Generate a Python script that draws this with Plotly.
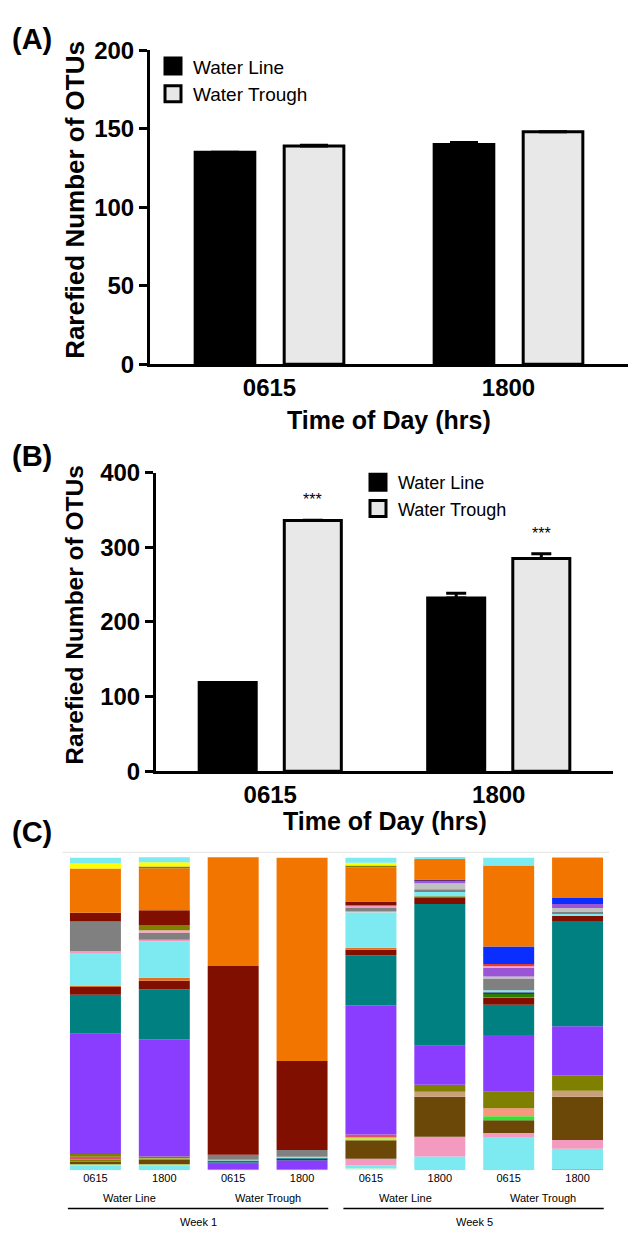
import numpy as np
import plotly.graph_objects as go

W, H = 630, 1241

# ---------------- data ----------------
times = ["0615", "1800"]
sources = ["Water Line", "Water Trough"]

# Panel A: rarefied number of OTUs
a_line = [135, 140]
a_line_err = [0, 1.2]
a_trough = [139, 148]
a_trough_err = [0.4, 0]

# Panel B
b_line = [119, 232]
b_line_err = [0, 6.5]
b_trough = [336, 285]
b_trough_err = [0.5, 6.5]
b_sig = ["***", "***"]

# Panel C: relative abundance (%) per sample, layers listed bottom -> top
c_samples = ["W1-WL-0615", "W1-WL-1800", "W1-WT-0615", "W1-WT-1800",
             "W5-WL-0615", "W5-WL-1800", "W5-WT-0615", "W5-WT-1800"]
c_time_labels = ["0615", "1800", "0615", "1800", "0615", "1800", "0615", "1800"]
c_source_labels = ["Water Line", "Water Trough", "Water Line", "Water Trough"]
c_week_labels = ["Week 1", "Week 5"]

rose = [0, 0, 0.3, 0.3, 0, 0, 0, 0.3]
lyellow = [0, 0, 0, 0, 0.6, 0, 0, 0]
cyan_low = [1.6, 1.6, 0, 0, 0.9, 4.4, 10.6, 6.6]
pink_low = [0, 0, 0, 0, 2.2, 6.3, 1.3, 2.8]
lgreen = [0.3, 0.3, 0, 0, 0, 0, 0, 0]
brown = [0.9, 1.6, 0, 0, 5.9, 12.8, 4.1, 13.8]
ygreen = [0, 0.3, 0, 0, 0.9, 0, 0, 0]
bgreen = [0, 0, 0, 0, 0, 0, 1.3, 0]
salmon = [0, 0, 0, 0, 0, 0, 2.5, 0]
olive_low = [0.6, 0, 0, 0, 0, 0, 0, 0]
crimson = [0.9, 0, 0, 0, 0.9, 0, 0, 0]
tan = [0, 0, 0, 0, 0, 1.6, 0, 1.9]
olive = [0.9, 0.6, 0, 0, 0, 2.2, 5.3, 5.0]
purple = [38.4, 37.5, 1.9, 2.8, 41.3, 12.5, 18.1, 15.6]
navy = [0, 0, 0.3, 0.6, 0, 0, 0, 0]
teal = [12.5, 15.9, 0.6, 0.3, 15.9, 45.3, 9.7, 33.4]
maroon_low = [2.5, 2.8, 0, 0, 1.9, 1.9, 2.2, 1.9]
orange_thin = [0.3, 0.9, 0, 0, 0.6, 0, 0, 0]
olive2 = [0, 0, 0, 0, 0, 0.6, 0.3, 0]
dgreen = [0, 0, 0, 0, 0, 0, 0.9, 0]
navy2 = [0, 0, 0, 0, 0, 0, 0.6, 0]
cyan_mid = [10.3, 11.6, 0, 0, 11.3, 1.3, 0.6, 0.6]
pink_mid = [0.9, 0.6, 0, 0, 0, 0, 0, 0]
lgrey_low = [0, 0, 0.3, 0.3, 0.3, 0, 0, 0]
grey = [9.4, 2.2, 1.6, 2.2, 1.3, 0.9, 3.8, 0.6]
lgrey = [0, 0, 0, 0, 0, 1.9, 0.6, 1.3]
lpurple = [0, 0, 0, 0, 0, 0.6, 2.8, 1.3]
dpurple = [0, 0, 0, 0, 0, 0.6, 0, 0]
pink_up = [0, 0.3, 0, 0, 0.6, 0, 0.6, 0]
red = [0, 0, 0, 0, 0, 0, 0.6, 0]
blue = [0, 0, 0, 0, 0, 0, 5.6, 1.9]
tan_up = [0, 0.6, 0, 0, 0, 0, 0, 0]
olive_up = [0, 1.6, 0, 0, 0, 0, 0, 0]
maroon_up = [2.8, 4.7, 60.3, 28.4, 1.3, 0, 0, 0]
orange = [14.1, 13.4, 34.7, 65.0, 10.9, 6.6, 25.9, 12.8]
olive_top = [0, 0.6, 0, 0, 0.6, 0, 0, 0]
yellow = [1.6, 1.3, 0, 0, 0.9, 0, 0, 0]
cyan_top = [1.9, 1.6, 0, 0, 1.6, 0.6, 2.5, 0.3]

c_layers = [rose, lyellow, cyan_low, pink_low, lgreen, brown, ygreen, bgreen,
            salmon, olive_low, crimson, tan, olive, purple, navy, teal,
            maroon_low, orange_thin, olive2, dgreen, navy2, cyan_mid, pink_mid,
            lgrey_low, grey, lgrey, lpurple, dpurple, pink_up, red, blue,
            tan_up, olive_up, maroon_up, orange, olive_top, yellow, cyan_top]
c_colors = ["#C4767F", "#F4F4A8", "#7DEAF2", "#F49AC1", "#B7E67A", "#6B4708",
            "#C8E650", "#2EE62E", "#F8977C", "#808000", "#E0506A", "#C9A077",
            "#808000", "#8B3DFF", "#1F3A7A", "#008080", "#800F00", "#E07020",
            "#808000", "#2E7D00", "#1F3A7A", "#7DEAF2", "#F49AC1", "#C8C8C8",
            "#808080", "#C0C0C0", "#9A55D6", "#5A2D82", "#F49AC1", "#E03A3A",
            "#0A2EFF", "#D2B48C", "#808000", "#800F00", "#F27500", "#808000",
            "#FFFF00", "#7DEAF2"]

# ---------------- helpers ----------------
FONT = "Liberation Sans, Arial, sans-serif"


def xd(p0, p1):
    return [p0 / W, p1 / W]


def yd(top, bottom):
    return [1 - bottom / H, 1 - top / H]


def py(p):
    return 1 - p / H


BARGAP = 0.255
GROUPGAP = 0.33
BAR_OFFSET = (1 - BARGAP) / 4  # centre offset of each bar within a group

fig = go.Figure()


def err(arr, w):
    return dict(type="data", array=arr, arrayminus=[0] * len(arr), symmetric=False,
                color="black", thickness=3, width=w)


# ---------------- panel A ----------------
fig.add_trace(go.Bar(x=times, y=a_line, name="Water Line", xaxis="x", yaxis="y",
                     marker=dict(color="black", line=dict(color="black", width=3)),
                     error_y=err(a_line_err, 14), showlegend=False))
fig.add_trace(go.Bar(x=times, y=a_trough, name="Water Trough", xaxis="x", yaxis="y",
                     marker=dict(color="#E8E8E8", line=dict(color="black", width=3)),
                     error_y=err(a_trough_err, 14), showlegend=False))

# ---------------- panel B ----------------
fig.add_trace(go.Bar(x=times, y=b_line, name="Water Line", xaxis="x2", yaxis="y2",
                     marker=dict(color="black", line=dict(color="black", width=3)),
                     error_y=err(b_line_err, 10), showlegend=False))
fig.add_trace(go.Bar(x=times, y=b_trough, name="Water Trough", xaxis="x2", yaxis="y2",
                     marker=dict(color="#E8E8E8", line=dict(color="black", width=3)),
                     error_y=err(b_trough_err, 10), showlegend=False))

# legend entries (large square swatches)
for lg, xa, ya in (("legend", "x", "y"), ("legend2", "x2", "y2")):
    for name, col in zip(sources, ["black", "#E8E8E8"]):
        fig.add_trace(go.Scatter(x=[None], y=[None], mode="markers", name=name,
                                 xaxis=xa, yaxis=ya, legend=lg,
                                 marker=dict(symbol="square", size=16, color=col,
                                             line=dict(color="black", width=3))))

# ---------------- panel C ----------------
vals = np.array(c_layers, dtype=float)
bases = np.vstack([np.zeros(vals.shape[1]), np.cumsum(vals, axis=0)[:-1]])
for i, (v, b, col) in enumerate(zip(vals, bases, c_colors)):
    fig.add_trace(go.Bar(x=c_samples, y=v, base=b, name=f"Taxon {i + 1}",
                         xaxis="x3", yaxis="y3", offsetgroup="c", width=0.74,
                         marker=dict(color=col, line=dict(width=0)),
                         showlegend=False))

# ---------------- layout ----------------
tick_bold = dict(family=FONT, size=24, color="black", weight="bold")
axis_common = dict(showline=True, linewidth=3, linecolor="black", showgrid=False,
                   zeroline=False)

fig.update_layout(
    width=W, height=H, margin=dict(l=0, r=0, t=0, b=0),
    paper_bgcolor="white", plot_bgcolor="white",
    font=dict(family=FONT, color="black"),
    hovermode=False,
    barmode="group", bargap=BARGAP, bargroupgap=GROUPGAP,
    xaxis=dict(domain=xd(150, 628), anchor="y", type="category",
               range=[-0.5, 1.5], ticks="", tickfont=tick_bold,
               ticklabelstandoff=0, **axis_common),
    yaxis=dict(domain=yd(37, 358), anchor="x", range=[0, 200], tick0=0, dtick=50,
               ticks="outside", ticklen=8, tickwidth=3, tickcolor="black",
               tickfont=tick_bold, **axis_common),
    xaxis2=dict(domain=xd(156, 613), anchor="y2", type="category",
                range=[-0.5, 1.5], ticks="", tickfont=tick_bold,
                ticklabelstandoff=0, **axis_common),
    yaxis2=dict(domain=yd(469, 774), anchor="x2", range=[0, 400], tick0=0, dtick=100,
                ticks="outside", ticklen=8, tickwidth=3, tickcolor="black",
                tickfont=tick_bold, **axis_common),
    xaxis3=dict(domain=xd(61, 612), anchor="y3", type="category",
                range=[-0.5, 7.5], ticks="", showline=False, showgrid=False,
                tickvals=c_samples, ticktext=c_time_labels,
                tickfont=dict(family=FONT, size=11, color="black")),
    yaxis3=dict(domain=yd(857, 1182), anchor="x3", range=[0, 101.6],
                visible=False, showgrid=False, zeroline=False),
    legend=dict(x=153 / W, y=py(34), xanchor="left", yanchor="top",
                font=dict(family=FONT, size=19, color="black"),
                bgcolor="rgba(0,0,0,0)", tracegroupgap=0),
    legend2=dict(x=358 / W, y=py(460), xanchor="left", yanchor="top",
                 font=dict(family=FONT, size=18, color="black"),
                 bgcolor="rgba(0,0,0,0)", tracegroupgap=0),
)

ann = []
# panel letters
for letter, yy in (("(A)", 26), ("(B)", 452), ("(C)", 836)):
    ann.append(dict(text=f"<b>{letter}</b>", x=32 / W, y=py(yy), xref="paper", yref="paper",
                    showarrow=False, xanchor="center", yanchor="middle",
                    font=dict(family=FONT, size=29, color="black")))
# y titles
for yy, fs in ((190, 26), (614, 24.5)):
    ann.append(dict(text="<b>Rarefied Number of OTUs</b>", x=75 / W, y=py(yy),
                    xref="paper", yref="paper", showarrow=False, textangle=-90,
                    xanchor="center", yanchor="middle",
                    font=dict(family=FONT, size=fs, color="black")))
# x titles
for xx, yy in ((389, 415), (385, 825)):
    ann.append(dict(text="<b>Time of Day (hrs)</b>", x=xx / W, y=py(yy),
                    xref="paper", yref="paper", showarrow=False,
                    xanchor="center", yanchor="middle",
                    font=dict(family=FONT, size=25, color="black")))
# significance stars
for i, s in enumerate(b_sig):
    ann.append(dict(text=s, x=i + BAR_OFFSET, y=b_trough[i] + b_trough_err[i],
                    xref="x2", yref="y2", showarrow=False, yanchor="bottom",
                    yshift=10, font=dict(family=FONT, size=16, color="black")))
# panel C group labels
for k, lab in enumerate(c_source_labels):
    ann.append(dict(text=lab, x=2 * k + 0.5, y=py(1210), xref="x3", yref="paper",
                    showarrow=False, xanchor="center", yanchor="middle",
                    font=dict(family=FONT, size=11, color="black")))
for k, lab in enumerate(c_week_labels):
    ann.append(dict(text=lab, x=4 * k + 1.5, y=py(1235), xref="x3", yref="paper",
                    showarrow=False, xanchor="center", yanchor="middle",
                    font=dict(family=FONT, size=11, color="black")))
fig.update_layout(annotations=ann)

shapes = [dict(type="line", xref="x3 domain", yref="y3 domain", x0=0.003, x1=0.995,
               y0=1, y1=1, line=dict(color="#E3E3E3", width=1))]
for k in range(2):
    shapes.append(dict(type="line", xref="x3", yref="paper",
                       x0=4 * k - 0.4, x1=4 * k + 3.38, y0=py(1221), y1=py(1221),
                       line=dict(color="black", width=1.5)))
fig.update_layout(shapes=shapes)

fig.write_html("out.html", config={"displayModeBar": False, "staticPlot": True},
               post_script="document.body.style.margin='0';")
